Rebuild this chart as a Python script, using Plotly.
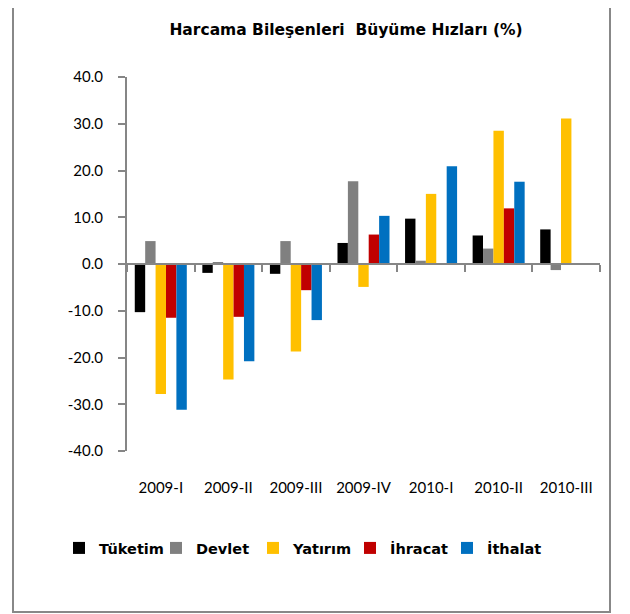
import plotly.graph_objects as go

quarters = ['2009-I', '2009-II', '2009-III', '2009-IV', '2010-I', '2010-II', '2010-III']

tuketim = [-10.3, -1.9, -2.1, 4.5, 9.7, 6.1, 7.4]
devlet = [4.9, 0.3, 4.9, 17.7, 0.7, 3.3, -1.3]
yatirim = [-27.8, -24.7, -18.7, -4.9, 15.0, 28.5, 31.1]
ihracat = [-11.5, -11.3, -5.6, 6.3, None, 11.9, None]
ithalat = [-31.2, -20.8, -12.0, 10.3, 20.9, 17.6, None]

series_names = ['Tüketim', 'Devlet', 'Yatırım', 'İhracat', 'İthalat']
colors = ['#000000', '#808080', '#FFC000', '#C00000', '#0070C0']

y_ticks = [40, 30, 20, 10, 0, -10, -20, -30, -40]
y_tick_text = ['40.0', '30.0', '20.0', '10.0', '0.0', '-10.0', '-20.0', '-30.0', '-40.0']

font_family = 'Lato, Noto Sans, sans-serif'
bold_family = 'DejaVu Sans, Noto Sans, sans-serif'

# page body has an 8px margin, so the figure is drawn 8px smaller
W, H = 622, 606
L, T, R, B = 119, 69, 30, 163
pw, ph = W - L - R, H - T - B

fig = go.Figure()
for name, vals, col in zip(series_names, [tuketim, devlet, yatirim, ihracat, ithalat], colors):
    fig.add_trace(go.Bar(x=quarters, y=vals, name='<b>' + name + '</b>',
                         marker_color=col, marker_line_width=0))

# invisible trace so the zero-line axis (x2) gets drawn
fig.add_trace(go.Scatter(x=[0], y=[0], xaxis='x2', mode='markers',
                         marker=dict(opacity=0), showlegend=False,
                         hoverinfo='skip'))

boundaries = [i - 0.5 for i in range(len(quarters) + 1)]

fig.update_layout(
    width=W, height=H,
    margin=dict(l=L, r=R, t=T, b=B),
    paper_bgcolor='white', plot_bgcolor='white',
    barmode='group', bargap=0.23, bargroupgap=0,
    font=dict(family=font_family, size=15, color='black'),
    title=dict(text='<b>Harcama Bileşenleri  Büyüme Hızları (%)</b>',
               x=338 / W, xanchor='center', y=1 - 22 / H, yanchor='middle',
               font=dict(size=15.5, family=bold_family)),
    xaxis=dict(showline=False, ticks='', showgrid=False, zeroline=False,
               ticklabelstandoff=26, tickfont=dict(size=15)),
    xaxis2=dict(overlaying='x', anchor='free', position=0.5, range=[-0.5, 6.5],
                showline=True, linecolor='#868686', linewidth=2,
                ticks='outside', ticklen=7, tickcolor='#868686', tickwidth=2,
                tickvals=boundaries, showticklabels=False, showgrid=False,
                zeroline=False),
    yaxis=dict(range=[-40, 40], tickvals=y_ticks, ticktext=y_tick_text,
               showline=True, linecolor='#868686', linewidth=2,
               ticks='outside', ticklen=7, tickcolor='#868686', tickwidth=2,
               showgrid=False, zeroline=False, ticklabelstandoff=12,
               tickfont=dict(size=15)),
    legend=dict(orientation='h', x=(51 - L) / pw, xanchor='left',
                y=(T + ph - 540) / ph, yanchor='middle',
                font=dict(size=14.5, family=bold_family),
                itemclick=False, traceorder='normal', itemwidth=30,
                entrywidth=52),
    showlegend=True,
)

fig.add_shape(type='rect', xref='paper', yref='paper',
              x0=(5 - L) / pw, x1=(602 - L) / pw,
              y0=(T + ph - 604) / ph, y1=(T + ph + 10) / ph,
              line=dict(color='#888888', width=2), fillcolor='rgba(0,0,0,0)')

fig.write_html('out.html')
